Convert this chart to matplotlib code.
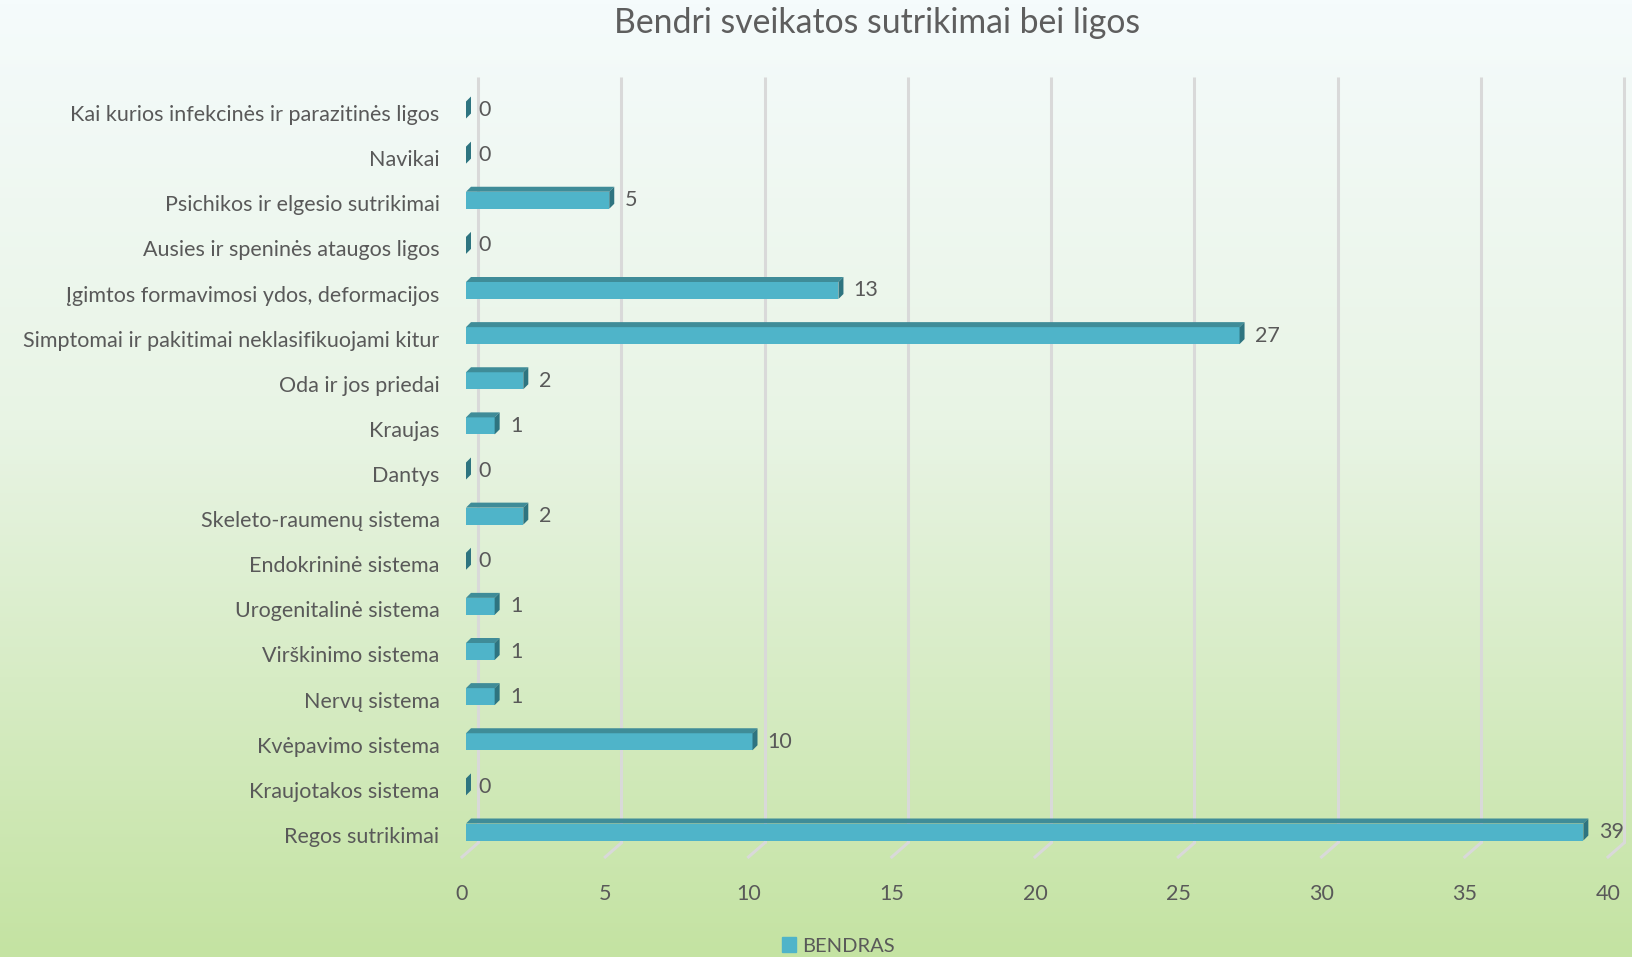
import numpy as np
import matplotlib.pyplot as plt
from matplotlib import transforms
from matplotlib.colors import LinearSegmentedColormap
from matplotlib.patches import Patch

categories = [
    "Kai kurios infekcinės ir parazitinės ligos",
    "Navikai",
    "Psichikos ir elgesio sutrikimai",
    "Ausies ir speninės ataugos ligos",
    "Įgimtos formavimosi ydos, deformacijos",
    "Simptomai ir pakitimai neklasifikuojami kitur",
    "Oda ir jos priedai",
    "Kraujas",
    "Dantys",
    "Skeleto-raumenų sistema",
    "Endokrininė sistema",
    "Urogenitalinė sistema",
    "Virškinimo sistema",
    "Nervų sistema",
    "Kvėpavimo sistema",
    "Kraujotakos sistema",
    "Regos sutrikimai",
]
values = [0, 0, 5, 0, 13, 27, 2, 1, 0, 2, 0, 1, 1, 1, 10, 0, 39]
series_name = "BENDRAS"
x_ticks = [0, 5, 10, 15, 20, 25, 30, 35, 40]
title = "Bendri sveikatos sutrikimai bei ligos"

W, H, DPI = 1632, 957, 100
txt = "#595959"
front_c, top_c, side_c = "#4FB4C9", "#3F8C98", "#2E7480"
grid_c = "#D9D9D9"

plt.rcParams['font.family'] = ['Lato', 'DejaVu Sans']

fig = plt.figure(figsize=(W / DPI, H / DPI), dpi=DPI)

# background gradient
bg = fig.add_axes([0, 0, 1, 1], zorder=-10)
cmap = LinearSegmentedColormap.from_list(
    "bg", [(0, "#F5FBFC"), (0.45, "#E8F4E4"), (1, "#C4E3A2")])
bg.imshow(np.linspace(0, 1, 256).reshape(-1, 1), aspect="auto", cmap=cmap,
          extent=[0, 1, 0, 1])
bg.axis("off")

# plot area in pixels: x 0 -> 466, 40 -> 1612 ; rows centred 110 .. 832
x0_px, x1_px = 466, 1612
row0, rowN = 110, 832
n = len(categories)
step = (rowN - row0) / (n - 1)
top_px = row0 - step / 2
bot_px = rowN + step / 2
ax = fig.add_axes([x0_px / W, 1 - bot_px / H, (x1_px - x0_px) / W, (bot_px - top_px) / H])
ax.set_xlim(0, 40)
ax.set_ylim(n - 0.5, -0.5)
ax.patch.set_alpha(0)
for s in ax.spines.values():
    s.set_visible(False)

px_x = (x1_px - x0_px) / 40.0   # pixels per unit
dx = 5 / px_x                   # bar depth in data units
dy = 5 / step
h = 17 / step

# gridlines: back wall + floor edge
blend = transforms.blended_transform_factory(ax.transData, fig.transFigure)
back = blend + transforms.ScaledTranslation(12 / DPI, 0, fig.dpi_scale_trans)
front = blend + transforms.ScaledTranslation(-4 / DPI, 0, fig.dpi_scale_trans)
for t in x_ticks:
    ax.plot([t, t], [1 - 77 / H, 1 - 843 / H], color=grid_c, lw=2.2,
            transform=back, zorder=0, clip_on=False, solid_capstyle="butt")
    p1 = back.transform((t, 1 - 843 / H))
    p2 = front.transform((t, 1 - 857 / H))
    fig.add_artist(plt.Line2D([p1[0] / W, p2[0] / W], [p1[1] / H, p2[1] / H],
                              transform=fig.transFigure, color=grid_c, lw=2.2, zorder=1))

# 3D-looking bars
ypos = np.arange(n)
ax.barh(ypos, values, height=h, color=front_c, zorder=3, label=series_name)
for y, v in zip(ypos, values):
    top = y - h / 2
    bot = y + h / 2
    if v > 0:
        ax.fill([0, v, v + dx, dx], [top, top, top - dy, top - dy],
                color=top_c, zorder=3, lw=0)
    ax.fill([v, v + dx, v + dx, v], [top, top - dy, bot - dy, bot],
            color=side_c, zorder=3, lw=0)
    ax.annotate(str(v), (v, y), xytext=(11 if v > 0 else 9, 0),
                textcoords="offset points", va="center", ha="left",
                fontsize=15.5, color=txt)

ax.set_yticks(ypos)
ax.set_yticklabels(categories, fontsize=15.5, color=txt)
ax.tick_params(axis="y", length=0, pad=19)
for lab in ax.get_yticklabels():
    lab.set_transform(lab.get_transform() +
                      transforms.ScaledTranslation(0, -3 / DPI, fig.dpi_scale_trans))

ax.set_xticks(x_ticks)
ax.set_xticklabels([str(t) for t in x_ticks], fontsize=15.5, color=txt)
ax.tick_params(axis="x", length=0, pad=21)
for lab in ax.get_xticklabels():
    lab.set_transform(lab.get_transform() +
                      transforms.ScaledTranslation(-4 / DPI, 0, fig.dpi_scale_trans))

fig.text(877 / W, 1 - 23 / H, title, ha="center", va="center", fontsize=24.3,
         color="#5E5E5E")

fig.legend(handles=[Patch(color=front_c, label=series_name)], loc="center",
           bbox_to_anchor=(838 / W, 1 - 946 / H), frameon=False, fontsize=14.5,
           labelcolor=txt, handlelength=0.7, handleheight=0.7, handletextpad=0.3)

fig.savefig("out.png", dpi=DPI)
